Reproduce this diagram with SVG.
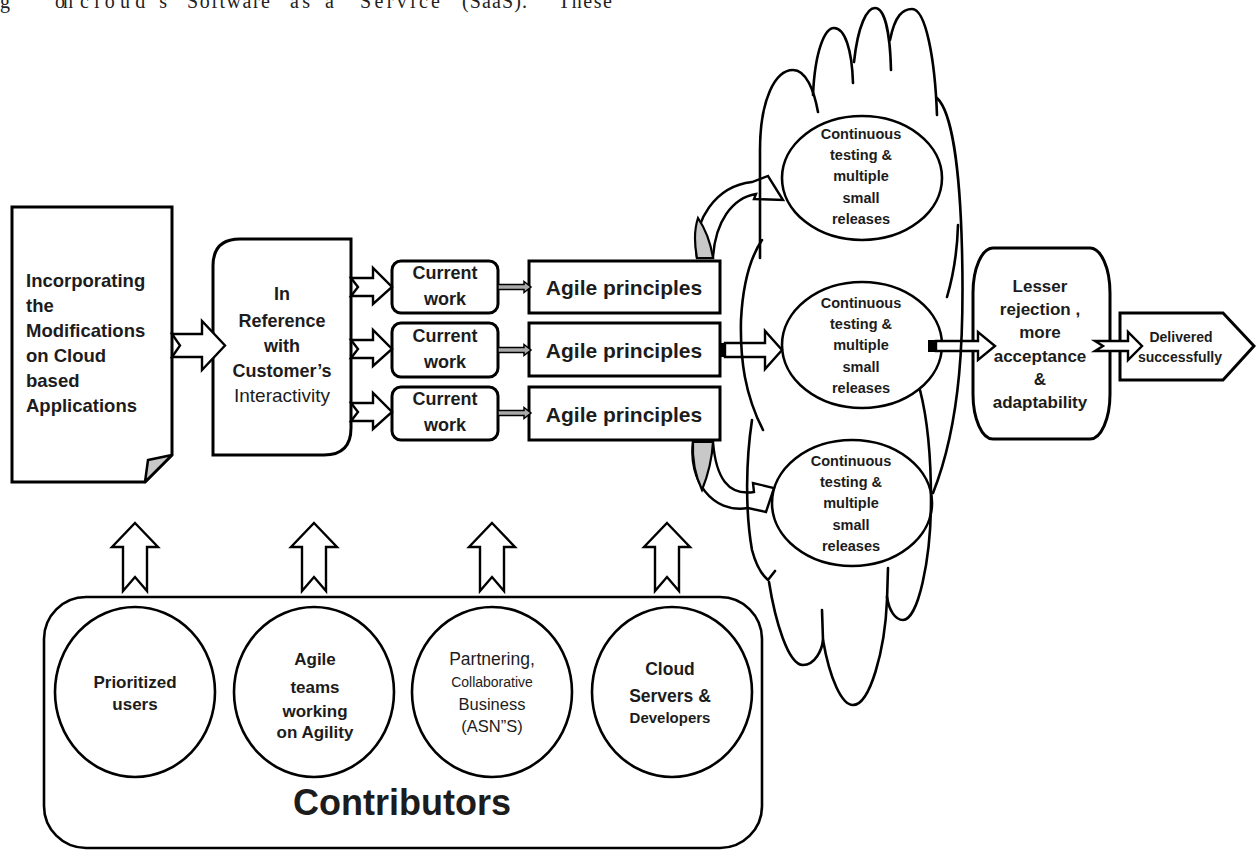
<svg xmlns="http://www.w3.org/2000/svg" width="1256" height="850" viewBox="0 0 1256 850">
<style>
.b{stroke:#000;stroke-width:3;fill:#fff;stroke-linejoin:miter}
.e{stroke:#000;stroke-width:2.6;fill:#fff}
.a{stroke:#000;stroke-width:2.4;fill:#fff;stroke-linejoin:miter}
.cl{stroke:#000;stroke-width:2.6;fill:none;stroke-linecap:round}
.t{font-family:"Liberation Sans",Arial,sans-serif;font-weight:bold;fill:#1c1c1c;text-anchor:middle}
.l{text-anchor:start}
.n{font-weight:normal}
.hd{font-family:"Liberation Serif","Times New Roman",serif;font-size:20px;fill:#222}
</style>
<rect width="1256" height="850" fill="#fff"/>

<g id="header">
<text class="hd" y="8" x="0">g</text>
<text class="hd" y="8" x="55" textLength="18" lengthAdjust="spacing">on</text>
<text class="hd" y="8" x="80" textLength="87" lengthAdjust="spacing">cloud's</text>
<text class="hd" y="8" x="187" textLength="83" lengthAdjust="spacing">Software</text>
<text class="hd" y="8" x="290" textLength="20" lengthAdjust="spacing">as</text>
<text class="hd" y="8" x="325">a</text>
<text class="hd" y="8" x="360" textLength="80" lengthAdjust="spacing">Service</text>
<text class="hd" y="8" x="462" textLength="65" lengthAdjust="spacing">(SaaS).</text>
<text class="hd" y="8" x="558" textLength="54" lengthAdjust="spacing">These</text>
</g>

<g id="doc">
<path class="b" stroke-width="3.5" d="M12 207 L172 207 L172 455 L145 482 L12 482 Z"/>
<path d="M148 460 L172 455 L145 482 Z" fill="#c8c8c8" stroke="#000" stroke-width="2.5" stroke-linejoin="round"/>
<g class="t l" font-size="18.5">
<text x="26" y="287">Incorporating</text>
<text x="26" y="312">the</text>
<text x="26" y="337">Modifications</text>
<text x="26" y="362">on Cloud</text>
<text x="26" y="387">based</text>
<text x="26" y="412">Applications</text>
</g>
</g>

<g id="customer">
<path class="b" d="M240 239 L351 239 L351 428 Q351 455 324 455 L213 455 L213 266 Q213 239 240 239 Z"/>
<g class="t" font-size="18">
<text x="282" y="300">In</text>
<text x="282" y="327">Reference</text>
<text x="282" y="352">with</text>
<text x="282" y="377">Customer’s</text>
<text x="282" y="402" class="n" font-size="19">Interactivity</text>
</g>
</g>

<g id="current1">
<rect class="b" x="392" y="261" width="106" height="52" rx="9"/>
<text class="t" font-size="18" x="445" y="279">Current</text>
<text class="t" font-size="18" x="445" y="305">work</text>
</g>
<g id="current2">
<rect class="b" x="392" y="323" width="106" height="54" rx="9"/>
<text class="t" font-size="18" x="445" y="342">Current</text>
<text class="t" font-size="18" x="445" y="368">work</text>
</g>
<g id="current3">
<rect class="b" x="392" y="387" width="106" height="53" rx="9"/>
<text class="t" font-size="18" x="445" y="405">Current</text>
<text class="t" font-size="18" x="445" y="431">work</text>
</g>

<g id="agile1">
<rect class="b" x="529" y="261" width="191" height="52"/>
<text class="t" font-size="21" x="624" y="295">Agile principles</text>
</g>
<g id="agile2">
<rect class="b" x="529" y="323" width="191" height="53"/>
<text class="t" font-size="21" x="624" y="358">Agile principles</text>
</g>
<g id="agile3">
<rect class="b" x="529" y="387" width="191" height="53"/>
<text class="t" font-size="21" x="624" y="422">Agile principles</text>
</g>

<g id="test1">
<ellipse class="e" cx="862" cy="178" rx="80" ry="62"/>
<g class="t" font-size="14.5">
<text x="861" y="139">Continuous</text>
<text x="861" y="160">testing &amp;</text>
<text x="861" y="181">multiple</text>
<text x="861" y="203">small</text>
<text x="861" y="224">releases</text>
</g>
</g>
<g id="test2">
<ellipse class="e" cx="862" cy="345" rx="80" ry="63"/>
<g class="t" font-size="14.5">
<text x="861" y="308">Continuous</text>
<text x="861" y="329">testing &amp;</text>
<text x="861" y="350">multiple</text>
<text x="861" y="372">small</text>
<text x="861" y="393">releases</text>
</g>
</g>
<g id="test3">
<ellipse class="e" cx="852" cy="503" rx="80" ry="63"/>
<g class="t" font-size="14.5">
<text x="851" y="466">Continuous</text>
<text x="851" y="487">testing &amp;</text>
<text x="851" y="508">multiple</text>
<text x="851" y="530">small</text>
<text x="851" y="551">releases</text>
</g>
</g>

<g id="lesser">
<rect class="b" x="973" y="248" width="137" height="191" rx="20" ry="45"/>
<g class="t" font-size="17">
<text x="1040" y="292">Lesser</text>
<text x="1040" y="315">rejection ,</text>
<text x="1040" y="338">more</text>
<text x="1040" y="362">acceptance</text>
<text x="1040" y="385">&amp;</text>
<text x="1040" y="408">adaptability</text>
</g>
</g>

<g id="delivered">
<path class="b" d="M1120 313 L1223 313 L1254 346 L1223 380 L1120 380 Z"/>
<text class="t" font-size="14" x="1181" y="342">Delivered</text>
<text class="t" font-size="14" x="1180" y="362">successfully</text>
</g>

<g id="contributors">
<rect class="e" x="44" y="597" width="718" height="251" rx="42"/>
<text class="t" font-size="36" x="402" y="815">Contributors</text>
</g>
<g id="c-users">
<ellipse class="e" cx="135" cy="692" rx="80" ry="85"/>
<text class="t" font-size="17" x="135" y="688">Prioritized</text>
<text class="t" font-size="17" x="135" y="710">users</text>
</g>
<g id="c-teams">
<ellipse class="e" cx="314" cy="692" rx="80" ry="85"/>
<text class="t" font-size="17" x="315" y="665">Agile</text>
<text class="t" font-size="17" x="315" y="693">teams</text>
<text class="t" font-size="17" x="315" y="717">working</text>
<text class="t" font-size="17" x="315" y="738">on Agility</text>
</g>
<g id="c-partner">
<ellipse class="e" cx="492" cy="692" rx="80" ry="85"/>
<text class="t n" font-size="17.5" x="492" y="665">Partnering,</text>
<text class="t n" font-size="14" x="492" y="687">Collaborative</text>
<text class="t n" font-size="16.5" x="492" y="710">Business</text>
<text class="t n" font-size="16.5" x="492" y="732">(ASN”S)</text>
</g>
<g id="c-cloud">
<ellipse class="e" cx="672" cy="692" rx="80" ry="85"/>
<text class="t" font-size="17.5" x="670" y="675">Cloud</text>
<text class="t" font-size="17.5" x="670" y="702">Servers &amp;</text>
<text class="t" font-size="15" x="670" y="723">Developers</text>
</g>

<g id="connectors">
<path class="a" d="M172 334 L202 334 L202 321 L225 345.5 L202 370 L202 357 L172 357 L180 345.5 Z"/>
<path class="a" d="M351 278 L373 278 L373 268 L392 287 L373 304 L373 296 L351 296 L358 287 Z"/>
<path class="a" d="M351 340 L373 340 L373 330 L392 349 L373 366 L373 358 L351 358 L358 349 Z"/>
<path class="a" d="M351 403 L373 403 L373 393 L392 412 L373 429 L373 421 L351 421 L358 412 Z"/>
<path d="M498 284.5 L524 284.5 L524 281.5 L531 287 L524 292.5 L524 289.5 L498 289.5 Z" fill="#aaa" stroke="#000" stroke-width="1.5"/>
<path d="M498 347.5 L524 347.5 L524 344.5 L531 350 L524 355.5 L524 352.5 L498 352.5 Z" fill="#aaa" stroke="#000" stroke-width="1.5"/>
<path d="M498 410.5 L524 410.5 L524 407.5 L531 413 L524 418.5 L524 415.5 L498 415.5 Z" fill="#aaa" stroke="#000" stroke-width="1.5"/>
<rect x="720" y="343" width="6" height="14" fill="#000"/>
<path class="a" d="M725 343 L765 343 L765 331 L782 350 L765 369 L765 357 L725 357 Z"/>
<path class="a" d="M697 258 C692 220 716 186 752 182 L768 176 L783 200 L754 199 L756 194 C732 198 715 222 713 258 Z"/>
<path d="M697 258 C694 242 694 230 698 218 C706 230 711 245 713 258 Z" fill="#c8c8c8" stroke="#000" stroke-width="2.2"/>
<path class="a" d="M693 442 C688 480 712 514 748 508 L766 512 L774 488 L753 483 L754 492 C728 496 716 478 713 442 Z"/>
<path d="M693 442 C692 460 695 475 702 490 C708 475 712 460 713 442 Z" fill="#c8c8c8" stroke="#000" stroke-width="2.2"/>
<rect x="928" y="340" width="10" height="12" fill="#000"/>
<path class="a" d="M936 341 L978 341 L978 332 L995 346 L978 360 L978 351 L936 351 Z"/>
<path class="a" d="M1095 341 L1128 341 L1128 332 L1142 346 L1128 360 L1128 351 L1095 351 L1103 346 Z"/>
<path class="a" d="M135 523 L158 547 L147 547 L147 591 L135 577 L123 591 L123 547 L112 547 Z"/>
<path class="a" d="M314 523 L337 547 L326 547 L326 591 L314 577 L302 591 L302 547 L291 547 Z"/>
<path class="a" d="M492 523 L515 547 L504 547 L504 591 L492 577 L480 591 L480 547 L469 547 Z"/>
<path class="a" d="M667 523 L690 547 L679 547 L679 591 L667 577 L655 591 L655 547 L644 547 Z"/>
</g>

<g id="cloud">
<path class="cl" d="M760 258 L760 150 C760 100 775 70 793 70 C806 70 814 90 818 112"/>
<path class="cl" d="M813 95 C815 50 825 28 834 28 C845 28 852 50 853 83"/>
<path class="cl" d="M854 62 C858 25 867 8 875 8 C884 8 890 30 891 70"/>
<path class="cl" d="M890 40 C895 15 903 9 912 9 C926 9 935 60 937 115"/>
<path class="cl" d="M937 98 C952 112 960 170 962 250 C964 330 962 420 933 493"/>
<path class="cl" d="M947 297 C952 280 957 260 958 225"/>
<path class="cl" d="M762 240 C752 255 743 280 741 320 C740 360 745 395 763 430"/>
<path class="cl" d="M752 420 C746 460 745 510 752 550 C756 565 762 575 768 580 M768 580 L775 571"/>
<path class="cl" d="M769 582 C775 620 788 665 803 665 C815 665 822 650 823 640 L822 610"/>
<path class="cl" d="M823 640 C830 680 842 705 853 705 C870 705 885 650 887 600 L888 568"/>
<path class="cl" d="M920 390 C929 425 931 460 931 500 C931 560 918 620 903 620 C895 620 889 610 887 597"/>
</g>
</svg>
